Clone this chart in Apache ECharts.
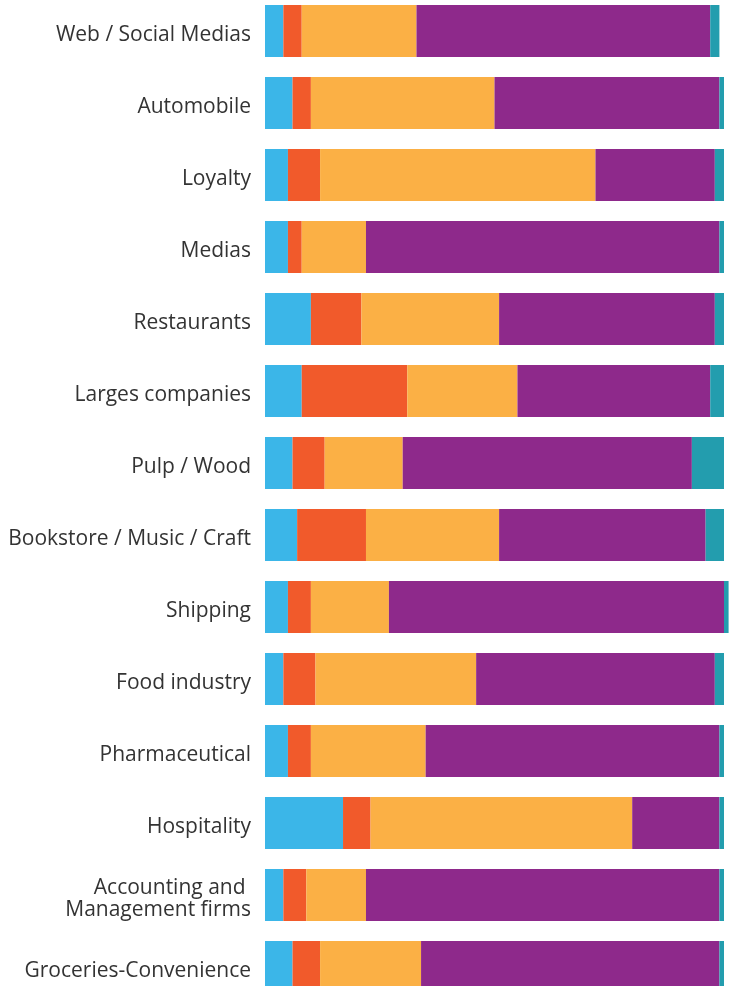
<!DOCTYPE html>
<html>
<head>
<meta charset="utf-8">
<style>
html,body{margin:0;padding:0;background:#fff;overflow:hidden;width:730px;height:986px;}
#chart{width:730px;height:1008px;position:absolute;left:0;top:-5px;}
</style>
<script src="https://cdn.jsdelivr.net/npm/echarts@6/dist/echarts.min.js"></script>
</head>
<body>
<div id="chart"></div>
<script>
const categories = [
  "Web / Social Medias","Automobile","Loyalty","Medias","Restaurants",
  "Larges companies","Pulp / Wood","Bookstore / Music / Craft","Shipping",
  "Food industry","Pharmaceutical","Hospitality","Accounting and \nManagement firms",
  "Groceries-Convenience"
];
const seriesBlue   = [4, 6, 5, 5, 10, 8, 6, 7, 5, 4, 5, 17, 4, 6];
const seriesRed    = [4, 4, 7, 3, 11, 23, 7, 15, 5, 7, 5, 6, 5, 6];
const seriesOrange = [25, 40, 60, 14, 30, 24, 17, 29, 17, 35, 25, 57, 13, 22];
const seriesPurple = [64, 49, 26, 77, 47, 42, 63, 45, 73, 52, 64, 19, 77, 65];
const seriesTeal   = [2, 1, 2, 1, 2, 3, 7, 4, 1, 2, 1, 1, 1, 1];

const colors = ["#3BB6E8","#F15A2B","#FBB045","#8E298B","#239DAE"];
const allSeries = [seriesBlue, seriesRed, seriesOrange, seriesPurple, seriesTeal];

const txt = {color:'#333333', fontSize:21, fontFamily:'Open Sans, Arial, sans-serif', lineHeight:26, align:'right'};
const chart = echarts.init(document.getElementById('chart'), null, {renderer:'canvas'});
chart.setOption({
  animation:false,
  grid:{left:265, right:6, top:0, bottom:0, containLabel:false},
  xAxis:{type:'value', min:0, max:100, show:false},
  yAxis:{
    type:'category', inverse:true, data:categories,
    axisLine:{show:false}, axisTick:{show:false}, splitLine:{show:false},
    axisLabel:Object.assign({margin:14,
      formatter: v => {
        const lines = v.split('\n');
        if (lines.length === 1) return '{f|' + v + '}';
        return lines.map((l,i)=> (i===0 ? '{m|' : '{n|') + l + '}').join('\n');
      },
      rich:{
        f:Object.assign({padding:[8,0,0,0]}, txt),
        m:Object.assign({padding:[12,0,0,0]}, txt),
        n:Object.assign({padding:[4,0,0,0]}, txt)
      }
    }, txt)
  },
  series: allSeries.map((d,i)=>({
    type:'bar', stack:'s', data:d, barWidth:52, clip:false,
    itemStyle:{color:colors[i]}, emphasis:{disabled:true}
  }))
});
</script>
</body>
</html>
